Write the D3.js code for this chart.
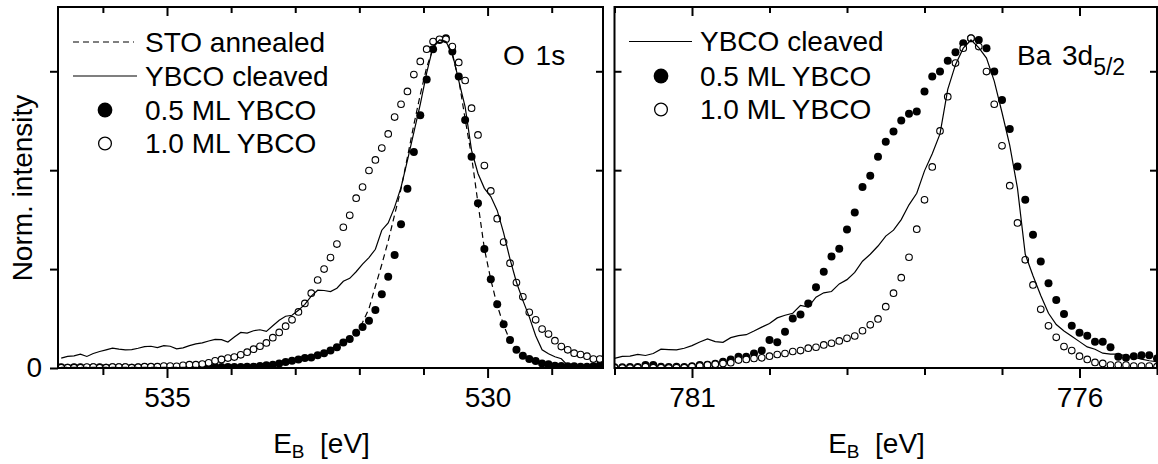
<!DOCTYPE html>
<html>
<head>
<meta charset="utf-8">
<script src="https://cdn.jsdelivr.net/npm/d3@7"></script>
<style>
  body { margin: 0; background: #fff; }
  svg { display: block; }
  text { font-family: "Liberation Sans", Arial, Helvetica, sans-serif; fill: #000; }
</style>
</head>
<body>
<svg id="chart" width="1158" height="464"></svg>
<script>
// ---------- O 1s spectra (binding energy in eV, normalised intensity) ----------
const o1sEnergy = [536.65, 536.55, 536.45, 536.35, 536.25, 536.15, 536.05, 535.95, 535.85, 535.75,
  535.65, 535.55, 535.45, 535.35, 535.25, 535.15, 535.05, 534.95, 534.85, 534.75,
  534.65, 534.55, 534.45, 534.35, 534.25, 534.15, 534.05, 533.95, 533.85, 533.75,
  533.65, 533.55, 533.45, 533.35, 533.25, 533.15, 533.05, 532.95, 532.85, 532.75,
  532.65, 532.55, 532.45, 532.35, 532.25, 532.15, 532.05, 531.95, 531.85, 531.75,
  531.65, 531.55, 531.45, 531.35, 531.25, 531.15, 531.05, 530.95, 530.85, 530.75,
  530.65, 530.55, 530.45, 530.35, 530.25, 530.15, 530.05, 529.95, 529.85, 529.75,
  529.65, 529.55, 529.45, 529.35, 529.25, 529.15, 529.05, 528.95, 528.85, 528.75,
  528.65, 528.55, 528.45, 528.35, 528.25];

const o1sSTO = [0.002, 0.002, 0.002, 0.002, 0.002, 0.002, 0.002, 0.002, 0.002, 0.002,
  0.002, 0.002, 0.002, 0.002, 0.002, 0.002, 0.002, 0.002, 0.002, 0.002,
  0.002, 0.002, 0.002, 0.002, 0.002, 0.002, 0.003, 0.003, 0.003, 0.003,
  0.004, 0.005, 0.007, 0.009, 0.012, 0.016, 0.020, 0.024, 0.028, 0.032,
  0.038, 0.046, 0.055, 0.066, 0.080, 0.095, 0.112, 0.138, 0.180, 0.248,
  0.314, 0.385, 0.465, 0.543, 0.640, 0.738, 0.829, 0.912, 0.970, 0.997,
  0.990, 0.950, 0.875, 0.755, 0.642, 0.500, 0.362, 0.268, 0.190, 0.130,
  0.083, 0.052, 0.034, 0.023, 0.016, 0.011, 0.008, 0.006, 0.005, 0.004,
  0.003, 0.003, 0.003, 0.002, 0.002];

const o1sCleaved = [0.030, 0.035, 0.037, 0.042, 0.035, 0.044, 0.050, 0.055, 0.060, 0.057,
  0.055, 0.056, 0.060, 0.065, 0.066, 0.062, 0.068, 0.066, 0.058, 0.061,
  0.068, 0.073, 0.076, 0.082, 0.087, 0.086, 0.079, 0.094, 0.108, 0.106,
  0.113, 0.116, 0.111, 0.128, 0.145, 0.157, 0.160, 0.175, 0.193, 0.218,
  0.236, 0.235, 0.232, 0.242, 0.263, 0.272, 0.292, 0.315, 0.335, 0.360,
  0.418, 0.440, 0.488, 0.548, 0.630, 0.715, 0.800, 0.895, 0.975, 0.995,
  0.990, 0.955, 0.872, 0.792, 0.660, 0.590, 0.545, 0.520, 0.478, 0.410,
  0.330, 0.260, 0.205, 0.155, 0.098, 0.055, 0.043, 0.034, 0.028, 0.008,
  0.004, 0.003, 0.004, 0.002, 0.002];

const o1sHalfML = [0.002, 0.001, 0.002, 0.002, 0.001, 0.002, 0.002, 0.001, 0.002, 0.002,
  0.002, 0.001, 0.002, 0.002, 0.002, 0.002, 0.002, 0.002, 0.002, 0.002,
  0.002, 0.002, 0.002, 0.002, 0.002, 0.003, 0.003, 0.003, 0.003, 0.004,
  0.004, 0.006, 0.008, 0.010, 0.014, 0.018, 0.022, 0.026, 0.030, 0.032,
  0.039, 0.045, 0.053, 0.063, 0.077, 0.088, 0.107, 0.124, 0.143, 0.176,
  0.224, 0.277, 0.343, 0.436, 0.544, 0.655, 0.767, 0.875, 0.967, 0.995,
  1.000, 0.960, 0.884, 0.752, 0.641, 0.500, 0.361, 0.269, 0.193, 0.133,
  0.085, 0.055, 0.037, 0.027, 0.021, 0.014, 0.011, 0.007, 0.006, 0.005,
  0.005, 0.004, 0.004, 0.005, 0.008];

const o1sOneML = [0.001, 0.001, 0.001, 0.001, 0.003, 0.003, 0.001, 0.001, 0.003, 0.003,
  0.003, 0.001, 0.002, 0.004, 0.004, 0.004, 0.006, 0.006, 0.005, 0.008,
  0.010, 0.010, 0.012, 0.016, 0.022, 0.026, 0.030, 0.033, 0.040, 0.048,
  0.057, 0.066, 0.076, 0.092, 0.108, 0.127, 0.146, 0.170, 0.196, 0.227,
  0.267, 0.300, 0.335, 0.376, 0.427, 0.463, 0.515, 0.549, 0.599, 0.631,
  0.667, 0.710, 0.761, 0.800, 0.839, 0.890, 0.930, 0.967, 0.990, 0.997,
  0.997, 0.975, 0.927, 0.872, 0.788, 0.707, 0.614, 0.537, 0.453, 0.382,
  0.318, 0.259, 0.216, 0.169, 0.146, 0.118, 0.103, 0.083, 0.065, 0.055,
  0.045, 0.041, 0.036, 0.027, 0.027];

// ---------- Ba 3d5/2 spectra ----------
const baEnergy = [782.0, 781.9, 781.8, 781.7, 781.6, 781.5, 781.4, 781.3, 781.2, 781.1,
  781.0, 780.9, 780.8, 780.7, 780.6, 780.5, 780.4, 780.3, 780.2, 780.1,
  780.0, 779.9, 779.8, 779.7, 779.6, 779.5, 779.4, 779.3, 779.2, 779.1,
  779.0, 778.9, 778.8, 778.7, 778.6, 778.5, 778.4, 778.3, 778.2, 778.1,
  778.0, 777.9, 777.8, 777.7, 777.6, 777.5, 777.4, 777.3, 777.2, 777.1,
  777.0, 776.9, 776.8, 776.7, 776.6, 776.5, 776.4, 776.3, 776.2, 776.1,
  776.0, 775.9, 775.8, 775.7, 775.6, 775.5, 775.4, 775.3, 775.2, 775.1,
  775.0];

const baCleaved = [0.029, 0.035, 0.036, 0.041, 0.038, 0.044, 0.057, 0.056, 0.055, 0.060,
  0.068, 0.079, 0.088, 0.080, 0.078, 0.092, 0.098, 0.101, 0.112, 0.124,
  0.135, 0.152, 0.160, 0.166, 0.190, 0.185, 0.215, 0.228, 0.232, 0.255,
  0.268, 0.290, 0.324, 0.345, 0.370, 0.400, 0.418, 0.450, 0.495, 0.530,
  0.598, 0.650, 0.710, 0.845, 0.920, 0.970, 0.995, 0.972, 0.940, 0.870,
  0.775, 0.675, 0.545, 0.345, 0.280, 0.220, 0.166, 0.132, 0.112, 0.096,
  0.080, 0.064, 0.057, 0.045, 0.042, 0.042, 0.037, 0.033, 0.027, 0.022,
  0.019];

const baHalfML = [0.002, 0.002, 0.003, 0.003, 0.009, 0.009, 0.004, 0.003, 0.004, 0.003,
  0.005, 0.009, 0.010, 0.013, 0.019, 0.026, 0.034, 0.034, 0.044, 0.053,
  0.085, 0.078, 0.110, 0.150, 0.162, 0.196, 0.245, 0.292, 0.338, 0.362,
  0.420, 0.472, 0.549, 0.583, 0.641, 0.686, 0.717, 0.751, 0.771, 0.778,
  0.839, 0.884, 0.899, 0.932, 0.958, 0.985, 1.000, 0.995, 0.970, 0.899,
  0.813, 0.725, 0.611, 0.510, 0.404, 0.323, 0.257, 0.206, 0.164, 0.128,
  0.107, 0.098, 0.080, 0.080, 0.063, 0.034, 0.031, 0.036, 0.039, 0.039,
  0.029];

const baOneML = [0.001, 0.000, 0.000, 0.001, 0.004, 0.001, 0.001, 0.000, 0.001, 0.001,
  0.004, 0.006, 0.009, 0.011, 0.014, 0.016, 0.024, 0.026, 0.029, 0.031,
  0.036, 0.041, 0.044, 0.050, 0.053, 0.060, 0.063, 0.070, 0.075, 0.082,
  0.090, 0.097, 0.113, 0.131, 0.149, 0.186, 0.227, 0.274, 0.336, 0.421,
  0.510, 0.610, 0.719, 0.823, 0.925, 0.970, 1.000, 0.975, 0.899, 0.800,
  0.674, 0.553, 0.440, 0.328, 0.252, 0.178, 0.128, 0.093, 0.065, 0.053,
  0.036, 0.026, 0.017, 0.014, 0.009, 0.009, 0.009, 0.006, 0.006, 0.006,
  0.004];

// ---------- axes ----------
const o1sMajorTicks = [535, 530];
const o1sMinorTicks = [536, 534, 533, 532, 531, 529];
const baMajorTicks = [781, 776];
const baMinorTicks = [782, 780, 779, 778, 777, 775];
const intensityTicks = [0, 0.3, 0.6, 0.9];
const intensityMax = 1.095;

const FONT = 28;
const svg = d3.select("#chart");
const plotTop = 7, plotBottom = 368;
const y = d3.scaleLinear().domain([0, intensityMax]).range([plotBottom, plotTop]);

function zip(xs, ys) { return xs.map((e, i) => [e, ys[i]]); }

function styleAxis(g) {
  g.select(".domain").remove();
  g.selectAll(".tick line").attr("stroke", "#000").attr("stroke-width", 2);
  g.selectAll(".tick text").attr("font-size", FONT)
    .attr("font-family", '"Liberation Sans", Arial, sans-serif').attr("fill", "#000");
}

function drawPanel(p) {
  const x = d3.scaleLinear().domain(p.domain).range([p.left, p.right]);

  const clipId = "clip-" + p.id;
  svg.append("clipPath").attr("id", clipId).append("rect")
    .attr("x", p.left).attr("y", plotTop)
    .attr("width", p.right - p.left).attr("height", plotBottom - plotTop);

  const plot = svg.append("g").attr("clip-path", `url(#${clipId})`);

  // markers
  p.series.filter(s => s.kind === "filled").forEach(s => {
    plot.append("g").selectAll("circle").data(zip(s.energy, s.values)).join("circle")
      .attr("cx", d => x(d[0])).attr("cy", d => y(d[1])).attr("r", 4.0)
      .attr("fill", "#000");
  });
  p.series.filter(s => s.kind === "open").forEach(s => {
    plot.append("g").selectAll("circle").data(zip(s.energy, s.values)).join("circle")
      .attr("cx", d => x(d[0])).attr("cy", d => y(d[1])).attr("r", 3.3)
      .attr("fill", "#fff").attr("stroke", "#000").attr("stroke-width", 1.1);
  });

  // lines
  const line = d3.line().x(d => x(d[0])).y(d => y(d[1]));
  p.series.filter(s => s.kind === "solid" || s.kind === "dashed").forEach(s => {
    plot.append("path").datum(zip(s.energy, s.values))
      .attr("d", line).attr("fill", "none").attr("stroke", "#000")
      .attr("stroke-width", 1.2)
      .attr("stroke-dasharray", s.kind === "dashed" ? "6,4" : null);
  });

  // frame
  svg.append("rect").attr("x", p.left).attr("y", plotTop)
    .attr("width", p.right - p.left).attr("height", plotBottom - plotTop)
    .attr("fill", "none").attr("stroke", "#000").attr("stroke-width", 2);

  // bottom axis: minor and labelled major ticks, pointing outward
  svg.append("g").attr("transform", `translate(0,${plotBottom})`)
    .call(d3.axisBottom(x).tickValues(p.minor).tickSize(7).tickFormat(""))
    .call(styleAxis);
  svg.append("g").attr("transform", `translate(0,${plotBottom})`)
    .call(d3.axisBottom(x).tickValues(p.major).tickSize(10).tickPadding(9).tickFormat(d3.format("d")))
    .call(styleAxis);

  // top axis: ticks pointing inward
  svg.append("g").attr("transform", `translate(0,${plotTop})`)
    .call(d3.axisBottom(x).tickValues(p.minor).tickSize(6).tickFormat(""))
    .call(styleAxis);
  svg.append("g").attr("transform", `translate(0,${plotTop})`)
    .call(d3.axisBottom(x).tickValues(p.major).tickSize(9).tickFormat(""))
    .call(styleAxis);

  // vertical axes
  if (p.outerLeft) {
    svg.append("g").attr("transform", `translate(${p.left},0)`)
      .call(d3.axisLeft(y).tickValues(intensityTicks).tickSize(8).tickPadding(8)
        .tickFormat(d => d === 0 ? "0" : ""))
      .call(styleAxis);
  } else {
    svg.append("g").attr("transform", `translate(${p.left},0)`)
      .call(d3.axisRight(y).tickValues(intensityTicks.slice(1)).tickSize(7).tickFormat(""))
      .call(styleAxis);
  }
  svg.append("g").attr("transform", `translate(${p.right},0)`)
    .call(d3.axisLeft(y).tickValues(intensityTicks.slice(1)).tickSize(7).tickFormat(""))
    .call(styleAxis);

  // x-axis title
  const t = svg.append("text").attr("x", p.titleX).attr("y", 453)
    .attr("text-anchor", "middle").attr("font-size", FONT);
  t.append("tspan").text("E");
  t.append("tspan").attr("font-size", 19).attr("dy", 5).text("B");
  t.append("tspan").attr("dy", -5).text("\u00a0\u00a0[eV]");

  // legend
  p.legend.forEach(item => {
    if (item.kind === "solid" || item.kind === "dashed") {
      svg.append("line").attr("x1", item.x1).attr("x2", item.x2)
        .attr("y1", item.y).attr("y2", item.y)
        .attr("stroke", "#000").attr("stroke-width", 1.2)
        .attr("stroke-dasharray", item.kind === "dashed" ? "6,4" : null);
    } else {
      svg.append("circle").attr("cx", item.cx).attr("cy", item.y)
        .attr("r", item.kind === "filled" ? 7.4 : 6.4)
        .attr("fill", item.kind === "filled" ? "#000" : "#fff")
        .attr("stroke", "#000").attr("stroke-width", item.kind === "filled" ? 0 : 1.3);
    }
    svg.append("text").attr("x", item.tx).attr("y", item.y + 9.5)
      .attr("font-size", FONT).text(item.label);
  });
}

drawPanel({
  id: "o1s", domain: [536.7, 528.2], left: 58, right: 603,
  major: o1sMajorTicks, minor: o1sMinorTicks, outerLeft: true, titleX: 321.5,
  series: [
    { kind: "filled", energy: o1sEnergy, values: o1sHalfML },
    { kind: "open", energy: o1sEnergy, values: o1sOneML },
    { kind: "solid", energy: o1sEnergy, values: o1sCleaved },
    { kind: "dashed", energy: o1sEnergy, values: o1sSTO }
  ],
  legend: [
    { kind: "dashed", x1: 73, x2: 134, y: 42, tx: 145, label: "STO annealed" },
    { kind: "solid", x1: 73, x2: 137, y: 76, tx: 145, label: "YBCO cleaved" },
    { kind: "filled", cx: 105, y: 110, tx: 145, label: "0.5 ML YBCO" },
    { kind: "open", cx: 105, y: 143.5, tx: 145, label: "1.0 ML YBCO" }
  ]
});

drawPanel({
  id: "ba3d", domain: [782, 775], left: 614.5, right: 1157,
  major: baMajorTicks, minor: baMinorTicks, outerLeft: false, titleX: 876.5,
  series: [
    { kind: "filled", energy: baEnergy, values: baHalfML },
    { kind: "open", energy: baEnergy, values: baOneML },
    { kind: "solid", energy: baEnergy, values: baCleaved }
  ],
  legend: [
    { kind: "solid", x1: 629, x2: 692, y: 41.5, tx: 700, label: "YBCO cleaved" },
    { kind: "filled", cx: 661, y: 76, tx: 700, label: "0.5 ML YBCO" },
    { kind: "open", cx: 661, y: 109.5, tx: 700, label: "1.0 ML YBCO" }
  ]
});

// core-level labels
svg.append("text").attr("x", 503).attr("y", 65).attr("font-size", FONT)
  .attr("word-spacing", 3).text("O 1s");
const ba = svg.append("text").attr("x", 1017).attr("y", 65).attr("font-size", FONT)
  .attr("word-spacing", 3);
ba.append("tspan").text("Ba 3d");
ba.append("tspan").attr("font-size", 23).attr("dy", 10).text("5/2");

// shared y-axis title
svg.append("text").attr("transform", "translate(32,188) rotate(-90)")
  .attr("text-anchor", "middle").attr("font-size", FONT).text("Norm. intensity");
</script>
</body>
</html>
